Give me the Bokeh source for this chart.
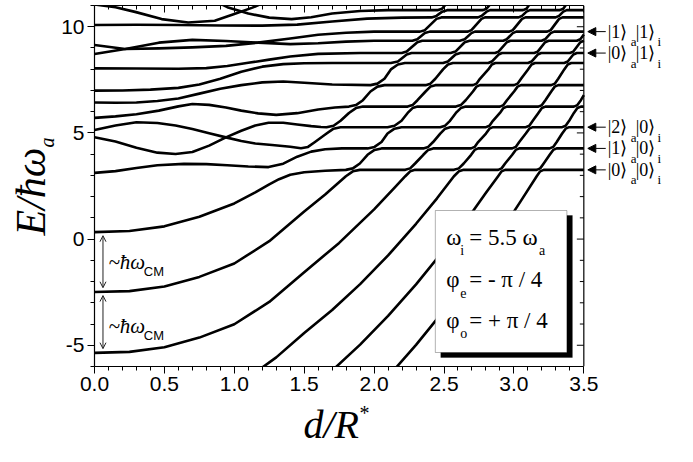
import math
from bokeh.plotting import figure
from bokeh.layouts import row, column
from bokeh.models import (Range1d, LinearAxis, FixedTicker, NumeralTickFormatter, CustomJSTickFormatter,
                          Label, Arrow, NormalHead, OpenHead, BoxAnnotation, Span)
from bokeh.embed import file_html
from bokeh.resources import INLINE

# ---------------- data ----------------
x_major_ticks = [0.0, 0.5, 1.0, 1.5, 2.0, 2.5, 3.0, 3.5]
x_minor_ticks = [0.1, 0.2, 0.3, 0.4, 0.6, 0.7, 0.8, 0.9, 1.1, 1.2, 1.3, 1.4, 1.6, 1.7, 1.8, 1.9,
                 2.1, 2.2, 2.3, 2.4, 2.6, 2.7, 2.8, 2.9, 3.1, 3.2, 3.3, 3.4]
y_major_ticks = [-5, 0, 5, 10]
y_minor_ticks = [-6, -4, -3, -2, -1, 1, 2, 3, 4, 6, 7, 8, 9, 11]

a0_x = [2.14, 2.3, 2.5, 2.7, 2.9, 3.05, 3.163, 3.188, 3.213, 3.5]
a0_y = [-6.18, -4.98, -3.36, -1.60, 0.29, 1.80, 2.96, 3.19, 3.26, 3.26]

a1_x = [1.71, 1.9, 2.1, 2.3, 2.5, 2.7, 2.8, 2.887, 2.912, 2.937, 3.163, 3.188, 3.213, 3.256, 3.281, 3.306, 3.5]
a1_y = [-6.13, -4.97, -3.62, -2.13, -0.51, 1.25, 2.18, 2.96, 3.19, 3.26, 3.26, 3.33, 3.56, 3.97, 4.20, 4.27, 4.27]

a2_x = [1.17, 1.3, 1.5, 1.7, 1.9, 2.1, 2.3, 2.45, 2.571, 2.606, 2.641, 2.887, 2.912, 2.937, 2.988, 3.013, 3.038,
        3.256, 3.281, 3.306, 3.345, 3.370, 3.395, 3.5]
a2_y = [-6.19, -5.57, -4.42, -3.34, -2.12, -0.77, 0.72, 1.92, 2.96, 3.19, 3.26, 3.26, 3.33, 3.56, 3.97, 4.20, 4.27,
        4.27, 4.34, 4.57, 4.97, 5.20, 5.27, 5.27]

a3_x = [0, 0.25, 0.5, 0.75, 1.0, 1.25, 1.5, 1.75, 2.0, 2.15, 2.223, 2.258, 2.293, 2.571, 2.606, 2.641, 2.694, 2.719,
        2.744, 2.988, 3.013, 3.038, 3.085, 3.110, 3.135, 3.345, 3.370, 3.395, 3.429, 3.454, 3.479, 3.5]
a3_y = [-5.36, -5.31, -5.09, -4.64, -4.01, -2.96, -1.56, -0.18, 1.40, 2.45, 2.96, 3.19, 3.26, 3.26, 3.33, 3.56, 3.97, 4.20,
        4.27, 4.27, 4.34, 4.57, 4.97, 5.20, 5.27, 5.27, 5.34, 5.57, 5.94, 6.17, 6.24, 6.24]

a4_x = [0, 0.25, 0.5, 0.75, 1.0, 1.25, 1.5, 1.65, 1.798, 1.848, 1.898, 2.223, 2.258, 2.293, 2.352, 2.387, 2.422, 2.694,
        2.719, 2.744, 2.800, 2.825, 2.850, 3.085, 3.110, 3.135, 3.175, 3.200, 3.225, 3.429, 3.454, 3.479, 3.5]
a4_y = [-2.49, -2.45, -2.23, -1.78, -1.15, -0.10, 1.30, 2.10, 2.96, 3.19, 3.26, 3.26, 3.33, 3.56, 3.97, 4.20, 4.27, 4.27,
        4.34, 4.57, 4.97, 5.20, 5.27, 5.27, 5.34, 5.57, 5.94, 6.17, 6.24, 6.24, 6.31, 6.54, 6.78]

a5_x = [0, 0.25, 0.5, 0.75, 1.0, 1.15, 1.25, 1.32, 1.4, 1.5, 1.65, 1.798, 1.848, 1.898, 1.953, 2.003, 2.053, 2.352,
        2.387, 2.422, 2.473, 2.508, 2.543, 2.800, 2.825, 2.850, 2.900, 2.925, 2.950, 3.175, 3.200, 3.225, 3.267, 3.292,
        3.317, 3.5]
a5_y = [0.33, 0.38, 0.60, 1.05, 1.68, 2.20, 2.58, 2.82, 3.03, 3.15, 3.22, 3.26, 3.33, 3.56, 3.97, 4.20, 4.27, 4.27,
        4.34, 4.57, 4.97, 5.20, 5.27, 5.27, 5.34, 5.57, 5.94, 6.17, 6.24, 6.24, 6.31, 6.54, 6.95, 7.18, 7.25, 7.25]

a6_x = [0, 0.15, 0.3, 0.45, 0.64, 0.8, 0.95, 1.1, 1.245, 1.35, 1.45, 1.55, 1.65, 1.77, 1.953, 2.003, 2.053, 2.096,
        2.146, 2.196, 2.473, 2.508, 2.543, 2.585, 2.620, 2.655, 2.900, 2.925, 2.950, 3.001, 3.026, 3.051, 3.267, 3.292,
        3.317, 3.360, 3.385, 3.410, 3.5]
a6_y = [3.12, 3.2, 3.35, 3.48, 3.54, 3.53, 3.48, 3.42, 3.39, 3.55, 3.88, 4.12, 4.23, 4.27, 4.27, 4.34, 4.57, 4.97,
        5.20, 5.27, 5.27, 5.34, 5.57, 5.94, 6.17, 6.24, 6.24, 6.31, 6.54, 6.95, 7.18, 7.25, 7.25, 7.32,
        7.55, 7.99, 8.22, 8.29, 8.29]

a7_x = [0, 0.15, 0.3, 0.45, 0.58, 0.7, 0.82, 0.94, 1.05, 1.15, 1.27, 1.4, 1.477, 1.527, 1.577, 1.66, 1.71, 1.76,
        2.096, 2.146, 2.196, 2.240, 2.275, 2.310, 2.585, 2.620, 2.655, 2.707, 2.732, 2.757, 3.001, 3.026, 3.051,
        3.101, 3.126, 3.151, 3.360, 3.385, 3.425, 3.450, 3.5]
a7_y = [5.14, 5.35, 5.5, 5.47, 5.35, 5.18, 4.98, 4.79, 4.62, 4.5, 4.43, 4.35, 4.28, 4.34, 4.57, 4.97, 5.20, 5.27,
        5.27, 5.34, 5.57, 5.94, 6.17, 6.24, 6.24, 6.31, 6.54, 6.95, 7.18, 7.25, 7.25, 7.32, 7.55,
        7.99, 8.22, 8.29, 8.29, 8.36, 8.69, 8.76, 8.76]

a8_x = [0, 0.15, 0.3, 0.45, 0.58, 0.7, 0.82, 0.94, 1.05, 1.15, 1.245, 1.35, 1.45, 1.55, 1.62, 1.66, 1.71, 1.76, 1.82,
        1.87, 1.92, 2.240, 2.275, 2.310, 2.368, 2.403, 2.438, 2.707, 2.732, 2.757, 2.817, 2.842, 2.867, 3.101, 3.126,
        3.170, 3.195, 3.400, 3.425, 3.475, 3.5]
a8_y = [4.80, 4.6, 4.3, 4.07, 4.01, 4.1, 4.4, 4.79, 5.1, 5.35, 5.48, 5.48, 5.4, 5.32, 5.28, 5.27, 5.34, 5.57, 5.94,
        6.17, 6.24, 6.24, 6.31, 6.54, 6.95, 7.18, 7.25, 7.25, 7.32, 7.55, 7.99, 8.22, 8.29, 8.29, 8.36,
        8.69, 8.76, 8.76, 8.83, 9.27, 9.34]

a9_x = [0, 0.15, 0.3, 0.46, 0.6, 0.7, 0.82, 0.94, 1.05, 1.17, 1.3, 1.45, 1.6, 1.72, 1.82, 1.87, 1.92, 1.974, 2.024,
        2.074, 2.368, 2.403, 2.438, 2.493, 2.528, 2.563, 2.817, 2.842, 2.890, 2.915, 3.145, 3.170, 3.223, 3.248, 3.450,
        3.475, 3.5]
a9_y = [5.71, 5.78, 5.88, 6.05, 6.25, 6.36, 6.32, 6.2, 6.05, 5.92, 5.85, 5.93, 6.1, 6.2, 6.24, 6.31, 6.54, 6.95, 7.18,
        7.25, 7.25, 7.32, 7.55, 7.99, 8.22, 8.29, 8.29, 8.36, 8.69, 8.76, 8.76, 8.83, 9.27, 9.34, 9.34,
        9.41, 9.63]

a10_x = [0, 0.15, 0.3, 0.45, 0.6, 0.75, 0.9, 1.05, 1.2, 1.35, 1.5, 1.7, 1.974, 2.024, 2.074, 2.120, 2.170, 2.220,
         2.493, 2.528, 2.582, 2.617, 2.865, 2.890, 2.949, 2.974, 3.198, 3.223, 3.263, 3.288, 3.5]
a10_y = [6.43, 6.42, 6.43, 6.5, 6.62, 6.85, 7.08, 7.25, 7.38, 7.42, 7.36, 7.28, 7.25, 7.32, 7.55, 7.99, 8.22, 8.29,
         8.29, 8.36, 8.69, 8.76, 8.76, 8.83, 9.27, 9.34, 9.34, 9.41, 9.70, 9.77, 9.77]

a11_x = [0, 0.2, 0.4, 0.6, 0.75, 0.9, 1.05, 1.2, 1.35, 1.5, 1.7, 2.120, 2.170, 2.233, 2.268, 2.547, 2.582, 2.648,
         2.683, 2.924, 2.949, 2.992, 3.017, 3.238, 3.263, 3.323, 3.348, 3.5]
a11_y = [6.99, 7.0, 7.04, 7.12, 7.28, 7.55, 7.88, 8.12, 8.24, 8.28, 8.29, 8.29, 8.36, 8.69, 8.76, 8.76, 8.83, 9.27,
         9.34, 9.34, 9.41, 9.70, 9.77, 9.77, 9.84, 10.37, 10.44, 10.44]

a12_x = [0, 0.3, 0.6, 0.8, 0.95, 1.1, 1.25, 1.4, 1.6, 1.9, 2.198, 2.233, 2.309, 2.344, 2.613, 2.648, 2.696, 2.721,
         2.967, 2.992, 3.058, 3.083, 3.298, 3.323, 3.353, 3.378, 3.5]
a12_y = [8.04, 8.03, 8.02, 8.05, 8.15, 8.3, 8.45, 8.6, 8.72, 8.76, 8.76, 8.83, 9.27, 9.34, 9.34, 9.41, 9.70, 9.77,
         9.77, 9.84, 10.37, 10.44, 10.44, 10.51, 10.71, 10.78, 10.78]

a13_x = [0, 0.22, 0.46, 0.7, 0.94, 1.17, 1.4, 1.6, 1.8, 2.0, 2.274, 2.309, 2.363, 2.398, 2.671, 2.696, 2.768, 2.793,
         3.033, 3.058, 3.090, 3.115, 3.328, 3.353, 3.39]
a13_y = [8.72, 8.95, 9.25, 9.38, 9.33, 9.25, 9.18, 9.22, 9.3, 9.34, 9.34, 9.41, 9.70, 9.77, 9.77, 9.84, 10.37, 10.44,
         10.44, 10.51, 10.71, 10.78, 10.78, 10.85, 11.2]

a14_x = [0, 0.22, 0.46, 0.7, 0.94, 1.17, 1.4, 1.6, 1.8, 2.0, 2.328, 2.363, 2.446, 2.481, 2.743, 2.768, 2.804, 2.829,
         3.065, 3.090, 3.13]
a14_y = [9.14, 8.95, 8.98, 9.03, 9.1, 9.25, 9.45, 9.62, 9.72, 9.77, 9.77, 9.84, 10.37, 10.44, 10.44, 10.51, 10.71,
         10.78, 10.78, 10.85, 11.23]

a15_x = [0, 0.3, 0.6, 0.9, 1.2, 1.45, 1.7, 1.95, 2.2, 2.411, 2.446, 2.487, 2.522, 2.779, 2.804, 2.845]
a15_y = [10.08, 10.09, 10.08, 10.06, 10.05, 10.1, 10.25, 10.38, 10.43, 10.44, 10.51, 10.71, 10.78, 10.78, 10.85, 11.17]

a16_x = [0.88, 0.95, 1.1, 1.25, 1.41, 1.55, 1.7, 1.9, 2.1, 2.3, 2.452, 2.487, 2.52]
a16_y = [11.15, 10.92, 10.62, 10.43, 10.36, 10.45, 10.62, 10.74, 10.78, 10.78, 10.78, 10.85, 11.12]

a17_x = [0, 0.15, 0.29, 0.48, 0.67, 0.86, 1.0, 1.13, 1.2]
a17_y = [11.05, 10.92, 10.7, 10.36, 10.2, 10.28, 10.6, 10.9, 11.1]

# asymptotic levels labelled on the right
state_levels = [3.26, 4.27, 5.27, 8.76, 9.77]
state_atom = ["0", "1", "2", "0", "1"]
state_ion = ["0", "0", "0", "1", "1"]

# ---------------- layout constants (canvas pixels) ----------------
FRAME_TOP, FRAME_BOTTOM = 5, 366
LEFT_W, MAIN_LEFT = 58, 34
X0_PX, X35_PX, CANVAS_W = 92, 583, 677
ROW_H = FRAME_BOTTOM + 34
BOTTOM_H = 446 - ROW_H
SX = (X35_PX - X0_PX) / 3.5
SY = (FRAME_BOTTOM - FRAME_TOP) / 17.0
X_END = (CANVAS_W - X0_PX) / SX           # data x at the right canvas edge


def cx(px):          # picture column -> data x
    return (px - X0_PX) / SX


def cy(py):          # picture row -> data y
    return 11 - (py - FRAME_TOP) / SY


def mid(baseline, size):   # centre row of a text line with the given baseline row
    return baseline - 0.3375 * size


y_rng = Range1d(-6, 11)

# ---------------- main figure (frame extends to the right for the state labels) ----------------
p = figure(width=CANVAS_W - LEFT_W, height=ROW_H, x_range=Range1d(0, X_END), y_range=y_rng,
           output_backend="svg", toolbar_location=None,
           min_border_left=MAIN_LEFT, min_border_right=0, min_border_top=FRAME_TOP,
           min_border_bottom=ROW_H - FRAME_BOTTOM,
           background_fill_color="white", border_fill_color="white")
p.xgrid.visible = False
p.ygrid.visible = False
p.outline_line_color = None


def style_axis(ax, inside):
    ax.axis_line_color = "black"
    ax.axis_line_width = 1.2
    ax.major_tick_line_color = "black"
    ax.minor_tick_line_color = "black"
    if inside:
        ax.major_tick_in, ax.major_tick_out = 7, 0
        ax.minor_tick_in, ax.minor_tick_out = 4, 0
        ax.formatter = CustomJSTickFormatter(code="return ''")
        ax.major_label_standoff = 0
    else:
        ax.major_tick_in, ax.major_tick_out = 0, 7
        ax.minor_tick_in, ax.minor_tick_out = 0, 4
        ax.major_label_text_font = "Liberation Sans"
        ax.major_label_text_font_size = "21px"
        ax.major_label_text_color = "black"
        ax.major_label_standoff = 3


p.xaxis.ticker = FixedTicker(ticks=x_major_ticks, minor_ticks=x_minor_ticks)
p.xaxis.formatter = NumeralTickFormatter(format="0.0")
p.xaxis.bounds = (0, 3.5)
p.yaxis.ticker = FixedTicker(ticks=y_major_ticks, minor_ticks=y_minor_ticks)
p.yaxis.formatter = NumeralTickFormatter(format="0")
style_axis(p.xaxis[0], False)
style_axis(p.yaxis[0], False)

top_ax = LinearAxis(ticker=FixedTicker(ticks=x_major_ticks, minor_ticks=x_minor_ticks), bounds=(0, 3.5))
style_axis(top_ax, True)
p.add_layout(top_ax, "above")

# right border of the plotting box at x = 3.5 with inward ticks
p.add_layout(Span(location=3.5, dimension="height", line_color="black", line_width=1.2))
p.segment(x0=[3.5] * len(y_major_ticks), y0=y_major_ticks,
          x1=[3.5 - 7 / SX] * len(y_major_ticks), y1=y_major_ticks, line_color="black", line_width=1)
p.segment(x0=[3.5] * len(y_minor_ticks), y0=y_minor_ticks,
          x1=[3.5 - 4 / SX] * len(y_minor_ticks), y1=y_minor_ticks, line_color="black", line_width=1)

curves = [(a0_x, a0_y), (a1_x, a1_y), (a2_x, a2_y), (a3_x, a3_y), (a4_x, a4_y), (a5_x, a5_y),
          (a6_x, a6_y), (a7_x, a7_y), (a8_x, a8_y), (a9_x, a9_y), (a10_x, a10_y), (a11_x, a11_y),
          (a12_x, a12_y), (a13_x, a13_y), (a14_x, a14_y), (a15_x, a15_y), (a16_x, a16_y), (a17_x, a17_y)]
for xs, ys in curves:
    p.line(xs, ys, line_color="black", line_width=2.6, line_join="round", line_cap="butt")

# spacing arrows (hbar omega_CM)
arr_x = cx(100.5)
for top_lvl, bot_lvl in [(a5_y[0], a4_y[0]), (a4_y[0], a3_y[0])]:
    p.add_layout(Arrow(start=OpenHead(size=6, line_width=1, line_color="#222222"),
                       end=OpenHead(size=6, line_width=1, line_color="#222222"),
                       x_start=arr_x, y_start=top_lvl - 0.17, x_end=arr_x, y_end=bot_lvl + 0.2,
                       line_width=1, line_color="#222222"))
for base_py in [269, 333]:
    p.add_layout(Label(x=cx(106), y=cy(mid(base_py, 21)), text="~ħω", text_font="Liberation Serif",
                       text_font_style="italic", text_font_size="21px", text_baseline="middle",
                       text_align="left", text_color="black"))
    p.add_layout(Label(x=cx(141.5), y=cy(mid(base_py + 6, 13)), text="CM", text_font="Liberation Sans",
                       text_font_size="13px", text_baseline="middle", text_align="left",
                       text_color="black"))

# parameter box with shadow
p.add_layout(BoxAnnotation(left=cx(439.5), right=cx(571.5), top=cy(215), bottom=cy(357),
                           fill_color="black", fill_alpha=1.0, line_color="black", line_width=1))
p.add_layout(BoxAnnotation(left=cx(434), right=cx(566), top=cy(210), bottom=cy(352),
                           fill_color="white", fill_alpha=1.0, line_color="black", line_width=1))

box_lines = [("ω", "i", "= 5.5 ω", 245), ("φ", "e", "= - π / 4", 287), ("φ", "o", "= + π / 4", 328)]
for sym, sub, rest, base in box_lines:
    p.add_layout(Label(x=cx(445), y=cy(mid(base, 23)), text=sym, text_font="Liberation Serif",
                       text_font_size="23px", text_baseline="middle", text_color="black"))
    p.add_layout(Label(x=cx(459), y=cy(mid(base + 10, 14)), text=sub, text_font="Liberation Serif",
                       text_font_size="14px", text_baseline="middle", text_color="black"))
    p.add_layout(Label(x=cx(468), y=cy(mid(base, 23)), text=rest, text_font="Liberation Serif",
                       text_font_size="23px", text_baseline="middle", text_color="black"))
p.add_layout(Label(x=cx(538), y=cy(mid(255, 14)), text="a", text_font="Liberation Serif",
                   text_font_size="14px", text_baseline="middle", text_color="black"))

# state labels with arrows, right of the plotting box
for lvl, na, ni in zip(state_levels, state_atom, state_ion):
    p.add_layout(Arrow(end=NormalHead(size=8, fill_color="black", line_color="black"),
                       x_start=cx(605), y_start=lvl, x_end=cx(587), y_end=lvl,
                       line_width=1, line_color="black"))
    p.add_layout(Label(x=cx(607), y=lvl, text="|" + na + "⟩", text_font="Liberation Serif",
                       text_font_size="18px", text_baseline="middle", text_color="black"))
    p.add_layout(Label(x=cx(630), y=lvl, y_offset=-10, text="a", text_font="Liberation Serif",
                       text_font_size="13px", text_baseline="middle", text_color="black"))
    p.add_layout(Label(x=cx(635), y=lvl, text="|" + ni + "⟩", text_font="Liberation Serif",
                       text_font_size="18px", text_baseline="middle", text_color="black"))
    p.add_layout(Label(x=cx(657), y=lvl, y_offset=-10, text="i", text_font="Liberation Serif",
                       text_font_size="13px", text_baseline="middle", text_color="black"))


def helper_fig(width, height, xr, yr, top, bottom):
    f = figure(width=width, height=height, x_range=xr, y_range=yr, output_backend="svg",
               toolbar_location=None, x_axis_location=None, y_axis_location=None,
               min_border_left=0, min_border_right=0, min_border_top=top, min_border_bottom=bottom,
               background_fill_color="white", border_fill_color="white", outline_line_color=None)
    f.grid.visible = False
    return f


# ---------------- left strip: y-axis title ----------------
lf = helper_fig(LEFT_W, ROW_H, Range1d(0, LEFT_W), y_rng, FRAME_TOP, ROW_H - FRAME_BOTTOM)
lf.add_layout(Label(x=30, y=cy(235), text="E/ħω", angle=math.pi / 2,
                    text_font="Liberation Serif", text_font_style="italic", text_font_size="42px",
                    text_baseline="middle", text_align="left", text_color="black"))
lf.add_layout(Label(x=46, y=cy(147), text="a", angle=math.pi / 2,
                    text_font="Liberation Serif", text_font_style="italic", text_font_size="20px",
                    text_baseline="middle", text_align="left", text_color="black"))

# ---------------- bottom strip: x-axis title ----------------
bf = helper_fig(CANVAS_W, BOTTOM_H, Range1d(0, CANVAS_W), Range1d(0, BOTTOM_H), 0, 0)
bf.add_layout(Label(x=303, y=446 - mid(437, 40), text="d/R", text_font="Liberation Serif",
                    text_font_style="italic", text_font_size="40px", text_baseline="middle",
                    text_align="left", text_color="black"))
bf.add_layout(Label(x=359, y=446 - mid(419, 20), text="*", text_font="Liberation Serif",
                    text_font_size="20px", text_baseline="middle", text_align="left",
                    text_color="black"))

layout = column(row(lf, p), bf)
open("out.html", "w").write(file_html(layout, INLINE))
